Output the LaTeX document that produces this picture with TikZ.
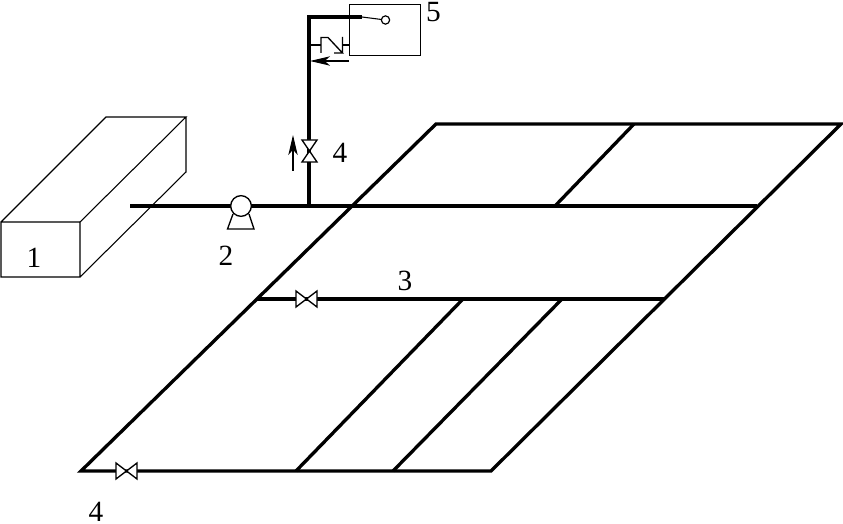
\documentclass[tikz,border=0pt]{standalone}
\usepackage{fontspec}
\setmainfont{Liberation Serif}
\usetikzlibrary{arrows.meta}
\tikzset{
  x=0.75pt,y=-0.75pt,
  thinline/.style={draw=black,line width=0.8pt,line join=miter},
  pipe/.style={draw=black,line width=2.5pt,line cap=butt},
  riser/.style={draw=black,line width=2.3pt,line cap=butt,line join=miter},
  midpipe/.style={draw=black,line width=2pt},
  sym/.style={draw=black,fill=white,line width=1pt,line join=miter},
  label/.style={inner sep=0pt,font=\fontsize{22pt}{24pt}\selectfont},
  flow/.style={draw=black,line width=1pt,-{Stealth[length=15pt,width=7pt,inset=4pt]}},
}
\begin{document}
\begin{tikzpicture}
\useasboundingbox (0,0) rectangle (843,524);
% tank
\coordinate (ta) at (1,222);\coordinate (tb) at (80,222);\coordinate (tc) at (80,277);\coordinate (td) at (1,277);
\coordinate (te) at (106,117);\coordinate (tf) at (186,117);\coordinate (tg) at (186,172);
\draw[thinline] (ta)--(tb)--(tc)--(td)--cycle (ta)--(te)--(tf)--(tb) (tf)--(tg)--(tc);
% network
\coordinate (A) at (436,124);\coordinate (B) at (841,124);\coordinate (C) at (491,471);\coordinate (D) at (81,471);
\draw[pipe,line join=miter] (D)--(A)--(B)--(C)--cycle;
\coordinate (m0) at (130,206);\coordinate (m1) at (757,206);
\draw[pipe] (m0)--(m1);
\coordinate (t0) at (634,124);\coordinate (t1) at (555,206);
\draw[pipe] (t0)--(t1);
\coordinate (l0) at (257,299);\coordinate (l1) at (665,299);
\draw[pipe] (l0)--(l1);
\coordinate (p0) at (463,299);\coordinate (p1) at (296,471);
\coordinate (q0) at (562,299);\coordinate (q1) at (393,471);
\draw[pipe] (p0)--(p1) (q0)--(q1);
% box 5
\node[thinline,minimum width=53.25pt,minimum height=38.25pt,inner sep=0pt,anchor=north west] (box) at (349,4) {};
% riser
\coordinate (r0) at (309,206);\coordinate (r1) at (309,17);\coordinate (r2) at (362,17);
\draw[riser] (r0)--(r1)--(r2);
\node[draw=black,fill=white,line width=0.9pt,circle,minimum size=6.2pt,inner sep=0pt] (sw) at (385.5,20) {};
\draw[thinline] (r2)--(sw);
% check valve
\coordinate (c0) at (309,45);\coordinate (c1) at (321,45);\coordinate (c2) at (343,45);\coordinate (c3) at (349,45);
\draw[midpipe] (c0)--(c1) (c2)--(c3);
\draw[thinline,line width=1pt] (321,37)--(321,53) (342.5,37)--(342.5,53) (321,37.5)--(328,37.5)--(342.5,53)--(334,53);
% valves
\draw[sym] (302,140)--(317,140)--(302,162)--(317,162)--cycle;
\draw[sym] (296,291)--(296,307)--(317,291)--(317,307)--cycle;
\draw[sym] (116,463)--(116,479)--(137,463)--(137,479)--cycle;
% pump
\draw[sym] (233,214)--(227.5,229)--(254,229)--(249,214);
\node[sym,circle,minimum size=15.5pt,inner sep=0pt] (pump) at (241,206) {};
% arrows
\coordinate (ua0) at (293,171);\coordinate (ua1) at (293,135);
\draw[flow] (ua0)--(ua1);
\coordinate (la0) at (349,61);\coordinate (la1) at (310,61);
\draw[flow] (la0)--(la1);
% labels
\node[label] (n1) at (34,258) {1};
\node[label] (n2) at (226,256) {2};
\node[label] (n3) at (405,281) {3};
\node[label] (n4) at (340,153) {4};
\node[label] (n4b) at (96,512) {4};
\node[label] (n5) at (433.5,12) {5};
\end{tikzpicture}
\end{document}
